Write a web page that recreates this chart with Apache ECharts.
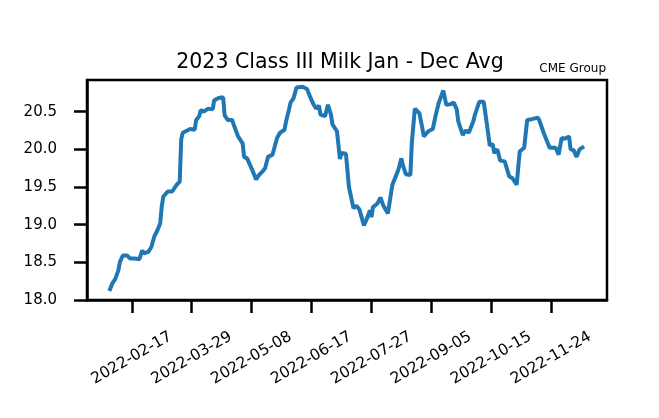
<!DOCTYPE html>
<html>
<head>
<meta charset="utf-8">
<script src="https://cdn.jsdelivr.net/npm/echarts@6/dist/echarts.min.js"></script>
<style>
html,body{margin:0;padding:0;background:#fff;}
#chart{width:659px;height:418px;}
</style>
</head>
<body>
<div id="chart"></div>
<script>
const dates = [
'2022-02-02','2022-02-04','2022-02-06','2022-02-08','2022-02-09','2022-02-11','2022-02-14','2022-02-16','2022-02-19','2022-02-22',
'2022-02-24','2022-02-25','2022-02-28','2022-03-02','2022-03-04','2022-03-06','2022-03-08','2022-03-09','2022-03-10','2022-03-13',
'2022-03-16','2022-03-19','2022-03-21','2022-03-22','2022-03-23','2022-03-25','2022-03-28','2022-03-31','2022-04-01','2022-04-03',
'2022-04-04','2022-04-06','2022-04-09','2022-04-12','2022-04-13','2022-04-16','2022-04-19','2022-04-20','2022-04-22','2022-04-25',
'2022-04-26','2022-04-29','2022-05-02','2022-05-03','2022-05-05','2022-05-07','2022-05-09','2022-05-11','2022-05-13','2022-05-15',
'2022-05-17','2022-05-19','2022-05-22','2022-05-23','2022-05-25','2022-05-27','2022-05-30','2022-05-31','2022-06-02','2022-06-03',
'2022-06-05','2022-06-07','2022-06-11','2022-06-14','2022-06-16','2022-06-18','2022-06-20','2022-06-22','2022-06-23','2022-06-26',
'2022-06-27','2022-06-28','2022-06-30','2022-07-01','2022-07-04','2022-07-06','2022-07-07','2022-07-10','2022-07-12','2022-07-15',
'2022-07-17','2022-07-19','2022-07-22','2022-07-24','2022-07-26','2022-07-27','2022-07-28','2022-07-31','2022-08-02','2022-08-04',
'2022-08-07','2022-08-10','2022-08-11','2022-08-14','2022-08-16','2022-08-17','2022-08-19','2022-08-22','2022-08-23','2022-08-24',
'2022-08-25','2022-08-28','2022-08-30','2022-08-31','2022-09-03','2022-09-06','2022-09-08','2022-09-10','2022-09-13','2022-09-15',
'2022-09-18','2022-09-20','2022-09-22','2022-09-23','2022-09-26','2022-09-28','2022-09-30','2022-10-03','2022-10-04','2022-10-07',
'2022-10-10','2022-10-12','2022-10-14','2022-10-16','2022-10-17','2022-10-19','2022-10-21','2022-10-24','2022-10-27','2022-10-29',
'2022-11-01','2022-11-03','2022-11-06','2022-11-08','2022-11-11','2022-11-15','2022-11-16','2022-11-19','2022-11-21','2022-11-23',
'2022-11-27','2022-11-29','2022-12-01','2022-12-03','2022-12-06','2022-12-07','2022-12-09','2022-12-11','2022-12-13','2022-12-16'
];
const prices = [
18.12,18.22,18.28,18.39,18.50,18.59,18.59,18.55,18.55,18.54,
18.66,18.62,18.64,18.70,18.84,18.92,19.02,19.24,19.37,19.44,
19.44,19.53,19.57,20.13,20.22,20.24,20.27,20.26,20.39,20.44,
20.52,20.50,20.54,20.53,20.65,20.68,20.69,20.45,20.39,20.39,
20.33,20.17,20.08,19.90,19.88,19.79,19.70,19.60,19.66,19.70,
19.75,19.90,19.93,19.95,20.15,20.22,20.26,20.37,20.53,20.62,
20.68,20.82,20.83,20.80,20.70,20.61,20.54,20.58,20.46,20.44,
20.44,20.59,20.46,20.33,20.24,19.87,19.95,19.94,19.50,19.22,
19.25,19.20,18.99,19.08,19.19,19.10,19.23,19.28,19.36,19.25,
19.15,19.53,19.55,19.73,19.88,19.79,19.67,19.66,20.09,20.10,
20.54,20.48,20.28,20.17,20.24,20.27,20.46,20.62,20.78,20.59,
20.60,20.62,20.53,20.37,20.19,20.25,20.22,20.37,20.45,20.63,
20.63,20.35,20.05,20.07,19.95,20.00,19.85,19.84,19.64,19.62,
19.53,19.97,20.02,20.39,20.40,20.42,20.39,20.22,20.12,20.02,
20.02,19.93,20.15,20.14,20.17,20.00,19.99,19.90,20.00,20.04
];
const xTickLabels = ['2022-02-17','2022-03-29','2022-05-08','2022-06-17','2022-07-27','2022-09-05','2022-10-15','2022-11-24'];
const yTicks = [18.0,18.5,19.0,19.5,20.0,20.5];
const titleText = '2023 Class III Milk Jan - Dec Avg';
const sourceText = 'CME Group';

function toTime(s){const p=s.split('-').map(Number);return Date.UTC(p[0],p[1]-1,p[2]);}
function fmt(v){const d=new Date(Math.round(v/864e5)*864e5);const m=d.getUTCMonth()+1,dd=d.getUTCDate();return d.getUTCFullYear()+'-'+(m<10?'0':'')+m+'-'+(dd<10?'0':'')+dd;}

const DAY = 864e5;
const base = toTime(xTickLabels[0]);
const xMin = base - 29.9*DAY;
const xMax = base + 317.3*DAY;
const xTicks = xTickLabels.map(toTime);
const seriesData = dates.map((d,i)=>[toTime(d), prices[i]]);

const FONT = 'DejaVu Sans';
const chart = echarts.init(document.getElementById('chart'), null, {renderer:'canvas'});
chart.setOption({
  backgroundColor:'#fff',
  animation:false,
  title:{
    text:titleText,
    left:335, top:47, textAlign:'center',
    textStyle:{fontFamily:FONT,fontSize:20.5,fontWeight:'normal',color:'#000'}
  },
  graphic:[{
    type:'text', right:53, top:63,
    style:{text:sourceText, font:'12px "DejaVu Sans"', fill:'#000'}
  }],
  grid:{left:87,right:52,top:80,bottom:118,show:true,borderColor:'#000',borderWidth:2.5,backgroundColor:'#fff'},
  xAxis:{
    type:'value', min:xMin, max:xMax, scale:true,
    axisLine:{show:true,lineStyle:{color:'#000',width:2.5}},
    axisTick:{show:true,length:13,lineStyle:{color:'#000',width:2.5},customValues:xTicks},
    axisLabel:{
      customValues:xTicks, rotate:30, align:'center', verticalAlign:'middle', margin:58,
      fontFamily:FONT, fontSize:15.5, color:'#000', hideOverlap:false,
      formatter:function(v){return fmt(v);}
    },
    splitLine:{show:false}, minorTick:{show:false}
  },
  yAxis:{
    type:'value', min:18.0, max:20.92,
    axisLine:{show:true,lineStyle:{color:'#000',width:2.5}},
    axisTick:{show:true,length:13,lineStyle:{color:'#000',width:2.5},customValues:yTicks},
    axisLabel:{customValues:yTicks, margin:30, fontFamily:FONT, fontSize:15, color:'#000',
      formatter:function(v){return Number(v).toFixed(1);}},
    splitLine:{show:false}
  },
  series:[{
    type:'line', data:seriesData, showSymbol:false, symbol:'none',
    lineStyle:{color:'#1f77b4',width:4}, itemStyle:{color:'#1f77b4'}
  }]
});
</script>
</body>
</html>
